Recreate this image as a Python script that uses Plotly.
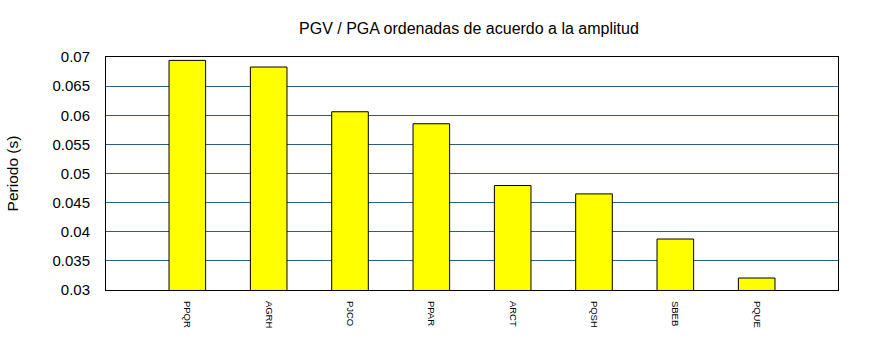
import plotly.graph_objects as go

estaciones = ["PPQR", "AGRH", "PJCO", "PPAR", "ARCT", "PQSH", "SBEB", "PQUE"]
periodo = [0.06942, 0.06828, 0.0606, 0.05854, 0.04794, 0.0465, 0.03875, 0.03206]
y_ticks = [0.03, 0.035, 0.04, 0.045, 0.05, 0.055, 0.06, 0.065, 0.07]
y_tick_text = ["0.03", "0.035", "0.04", "0.045", "0.05", "0.055", "0.06", "0.065", "0.07"]

font_family = "Liberation Sans, Arial, sans-serif"

fig = go.Figure(
    go.Bar(
        x=list(range(len(estaciones))),
        y=periodo,
        base=0,
        width=0.45,
        marker=dict(color="#ffff00", line=dict(color="black", width=1)),
    )
)

fig.update_layout(
    width=870,
    height=350,
    margin=dict(l=103, r=32, t=57, b=60),
    paper_bgcolor="white",
    plot_bgcolor="white",
    showlegend=False,
    font=dict(family=font_family, color="black"),
    title=dict(
        text="PGV / PGA ordenadas de acuerdo a la amplitud",
        x=0.539,
        xanchor="center",
        y=0.92,
        yanchor="middle",
        font=dict(size=16, family=font_family, color="black"),
    ),
)

fig.update_xaxes(
    range=[-1, 8],
    tickmode="array",
    tickvals=list(range(len(estaciones))),
    ticktext=estaciones,
    tickangle=90,
    tickfont=dict(size=9.5, family=font_family),
    showgrid=False,
    zeroline=False,
    showline=True,
    linecolor="black",
    linewidth=1,
    mirror=True,
    ticks="",
    ticklabelstandoff=8,
)

fig.update_yaxes(
    range=[0.03, 0.07],
    tickmode="array",
    tickvals=y_ticks,
    ticktext=y_tick_text,
    tickfont=dict(size=15, family=font_family),
    showgrid=True,
    gridcolor="#2b5d80",
    gridwidth=1,
    zeroline=False,
    showline=True,
    linecolor="black",
    linewidth=1,
    mirror=True,
    ticks="",
    ticklabelstandoff=12,
    title=dict(text="Periodo (s)", font=dict(size=15.5, family=font_family), standoff=30),
)

fig.write_html("out.html")
